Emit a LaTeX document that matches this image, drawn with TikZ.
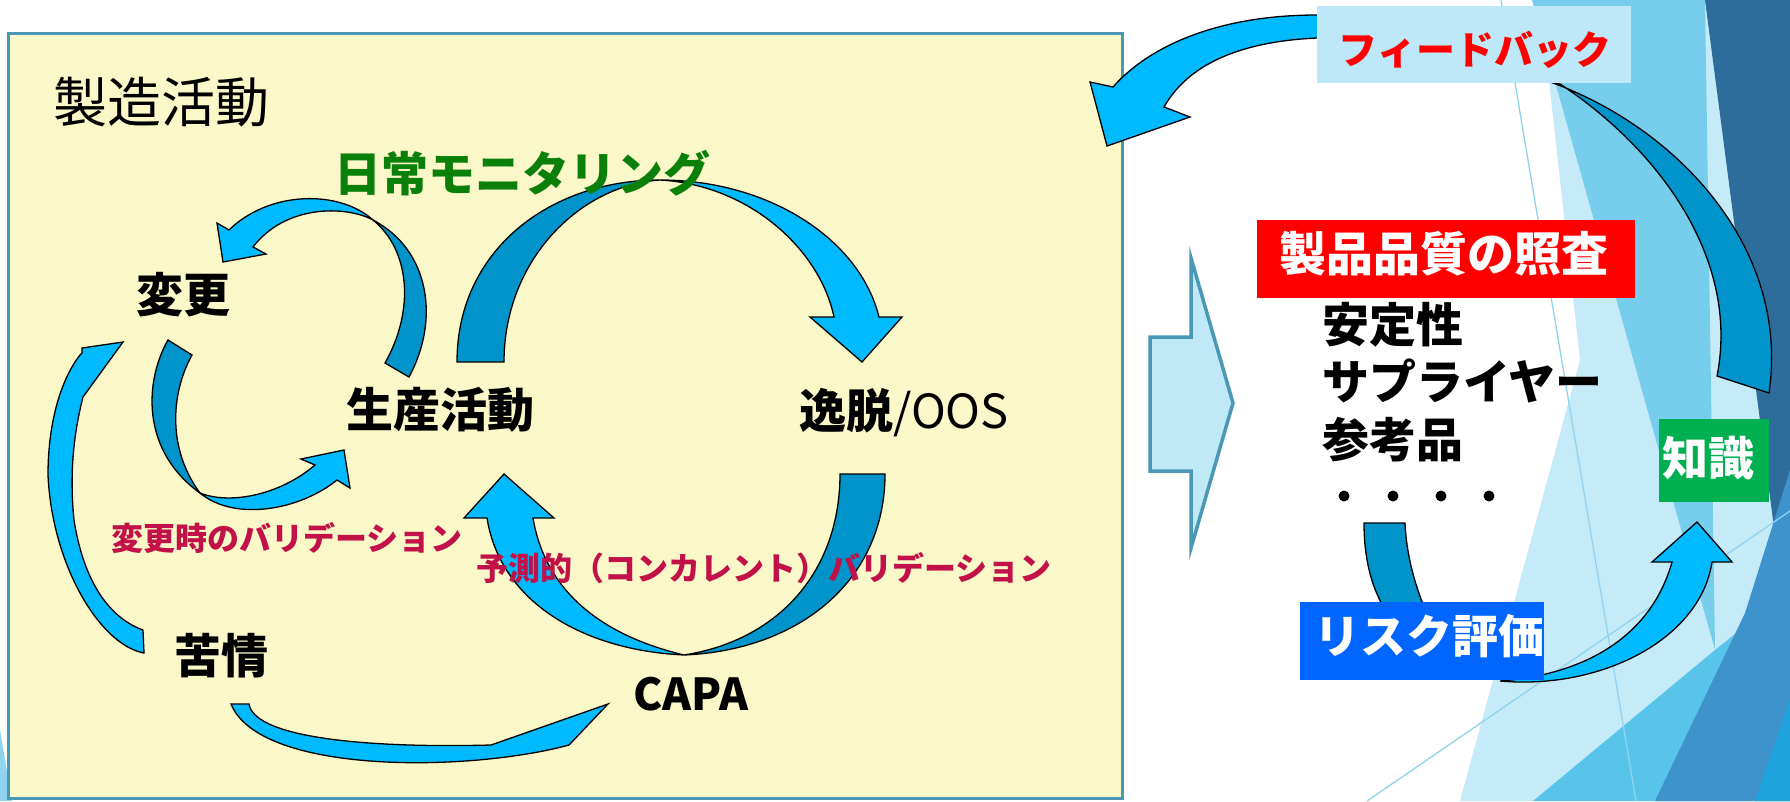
\documentclass[tikz,border=0pt]{standalone}
\usepackage{fontspec}
\setmainfont{Noto Sans CJK JP}
\definecolor{boxfill}{RGB}{250,247,200}
\definecolor{boxline}{RGB}{74,152,181}
\definecolor{arrLight}{RGB}{0,186,255}
\definecolor{arrDark}{RGB}{0,148,202}
\definecolor{crimson}{RGB}{194,16,72}
\definecolor{mgreen}{RGB}{10,128,10}
\definecolor{fbfill}{RGB}{190,232,247}
\definecolor{bigfill}{RGB}{191,233,247}
\definecolor{kgreen}{RGB}{0,176,80}
\definecolor{rblue}{RGB}{0,102,255}
\definecolor{pureRed}{RGB}{255,0,0}
\definecolor{facetPale}{RGB}{198,235,248}
\definecolor{facetMid}{RGB}{118,205,236}
\definecolor{facetMidB}{RGB}{88,196,234}
\definecolor{facetDark}{RGB}{46,108,156}
\definecolor{facetBlue}{RGB}{62,147,205}
\definecolor{facetBright}{RGB}{31,163,220}
\definecolor{facetLine}{RGB}{143,212,239}
\tikzset{
  alight/.style={fill=arrLight, draw=black, line width=1.3pt, line join=miter},
  adark/.style={fill=arrDark, draw=black, line width=1.3pt, line join=miter},
  jbold/.style={inner sep=0pt, font=\bfseries\fontsize{47}{50}\selectfont},
  jreg/.style={inner sep=0pt, font=\fontsize{47}{50}\selectfont},
  vlabel/.style={inner sep=0pt, text=crimson, font=\bfseries\fontsize{32}{34}\selectfont},
  wlabel/.style={inner sep=0pt, text=white, font=\bfseries\fontsize{47}{50}\selectfont},
  facetline/.style={draw=facetLine, line width=1.3pt},
}
\begin{document}
\begin{tikzpicture}[x=1pt,y=-1pt]
\useasboundingbox (0,0) rectangle (1790,801);
\fill[white] (0,0) rectangle (1790,801);
% background facets
\fill[facetPale] (1460,801) -- (1580,360) -- (1540,0) -- (1790,0) -- (1790,801) -- cycle;
\fill[facetMid] (1532,0) -- (1705,0) -- (1715,650) -- cycle;
\fill[facetMidB] (1533,801) -- (1715,650) -- (1790,590) -- (1790,801) -- cycle;
\fill[facetDark] (1705,0) -- (1790,0) -- (1790,650) -- cycle;
\fill[facetBlue] (1655,801) -- (1745,613) -- (1790,470) -- (1790,801) -- cycle;
\fill[facetBright] (1755,801) -- (1790,700) -- (1790,801) -- cycle;
\draw[facetline] (1501,0) -- (1636,801);
\draw[facetline] (1367,801) -- (1790,511);
\fill[facetLine] (0,730) -- (12,801) -- (0,801) -- cycle;
% yellow frame
\draw[fill=boxfill, draw=boxline, line width=3pt] (8,33) rectangle (1122,798);
% big outline arrow
\draw[fill=bigfill, draw=boxline, line width=3.5pt, line join=miter]
  (1150,337) -- (1191,337) -- (1191,258) -- (1233,403) -- (1191,548) -- (1191,471) -- (1150,471) -- cycle;
% arrow E (kujou -> henkou)
\draw[alight] (143,630) .. controls (115,620) and (85,590) .. (74,520)
  .. controls (70,480) and (72,440) .. (83,397) -- (123,342) -- (82,348) -- (82,353) -- (80,355)
  .. controls (62,378) and (48,420) .. (48,475)
  .. controls (52,565) and (100,645) .. (144,653) -- cycle;
% arrow D (henkou -> seisan)
\draw[adark] (168,340) .. controls (145,380) and (140,450) .. (200,493)
  .. controls (168,450) and (170,395) .. (192,355) -- cycle;
\draw[alight] (200,493) .. controls (230,505) and (280,495) .. (315,465) -- (301,459) -- (344,450)
  -- (350,488) -- (337,480) .. controls (300,510) and (235,522) .. (200,493) -- cycle;
% arrow A (seisan -> henkou)
\draw[adark] (409,377) .. controls (440,320) and (430,250) .. (373,220)
  .. controls (410,250) and (415,310) .. (385,363) -- cycle;
\draw[alight] (373,220) .. controls (340,190) and (270,190) .. (229,230) -- (217,223) -- (223,262)
  -- (266,254) -- (253,247) .. controls (285,205) and (345,205) .. (373,220) -- cycle;
% arrow B (seisan -> itsudatsu)
\draw[adark] (457,362) .. controls (457,250) and (550,180) .. (660,180)
  .. controls (580,185) and (504,260) .. (504,362) -- cycle;
\draw[alight] (660,180) .. controls (770,180) and (860,240) .. (879,317) -- (902,317) -- (862,362)
  -- (810,317) -- (834,317) .. controls (820,250) and (750,185) .. (660,180) -- cycle;
% arrow C (itsudatsu -> CAPA -> seisan)
\draw[adark] (885,474) .. controls (885,580) and (800,650) .. (684,655)
  .. controls (780,640) and (840,570) .. (840,474) -- cycle;
\draw[alight] (684,655) .. controls (580,650) and (500,600) .. (487,518) -- (464,518) -- (504,474)
  -- (554,518) -- (533,518) .. controls (545,590) and (600,635) .. (684,655) -- cycle;
% arrow F (kujou -> CAPA)
\draw[alight] (249,704) .. controls (255,740) and (380,748) .. (491,745) -- (608,704) -- (569,745)
  .. controls (470,772) and (260,775) .. (231,704) -- cycle;
% left texts
\node[inner sep=0pt, font=\fontsize{54}{56}\selectfont] (seizou) at (161,102) {製造活動};
\node[jbold, text=mgreen] (nichijo) at (522,173) {日常モニタリング};
\node[jbold] (henkou) at (183,295) {変更};
\node[jbold] (seisan) at (440,410) {生産活動};
\node[jreg] (itsudatsu) at (904,413) {{\bfseries 逸脱}/OOS};
\node[jbold] (kujou) at (221,656) {苦情};
\node[inner sep=0pt, font=\bfseries\fontsize{44}{48}\selectfont] (capa) at (691,694) {CAPA};
\node[vlabel] (val1) at (287,538) {変更時のバリデーション};
\node[vlabel] (val2) at (764,568) {予測的（コンカレント）バリデーション};
% arrow G (feedback, light part)
\draw[alight] (1400,14) -- (1317,15) .. controls (1220,15) and (1150,45) .. (1113,87) -- (1090,82)
  -- (1107,146) -- (1190,117) -- (1164,107) .. controls (1185,70) and (1230,42) .. (1317,38) -- (1400,30) -- cycle;
% arrow H (dark part towards knowledge)
\draw[adark] (1553,83) .. controls (1680,130) and (1790,250) .. (1769,393) -- (1717,376)
  .. controls (1740,260) and (1660,150) .. (1560,84) -- cycle;
% feedback box
\fill[fbfill] (1317,6) rectangle (1631,83);
\node[inner sep=0pt, text=pureRed, font=\bfseries\fontsize{39}{42}\selectfont] (feedback) at (1475,50) {フィードバック};
% product quality review
\fill[pureRed] (1257,220) rectangle (1635,298);
\node[wlabel] (shohin) at (1444,254) {製品品質の照査};
\node[jbold, anchor=west] (antei) at (1322,325) {安定性};
\node[jbold, anchor=west] (supplier) at (1322,381) {サプライヤー};
\node[jbold, anchor=west] (sankou) at (1322,440) {参考品};
\foreach \xx in {1344,1393,1441,1489} \fill[black] (\xx,496) circle (5.5);
% arrow I
\draw[adark] (1364,523) .. controls (1364,590) and (1390,640) .. (1455,665)
  .. controls (1425,620) and (1407,570) .. (1405,523) -- cycle;
\draw[alight] (1500,681) .. controls (1580,675) and (1650,640) .. (1672,562) -- (1652,562) -- (1697,522)
  -- (1732,562) -- (1712,562) .. controls (1700,640) and (1600,690) .. (1500,681) -- cycle;
\fill[rblue] (1300,602) rectangle (1544,680);
\node[wlabel, font=\bfseries\fontsize{46}{48}\selectfont] (risk) at (1429,636) {リスク評価};
% knowledge box
\fill[kgreen] (1659,419) rectangle (1769,502);
\node[wlabel, font=\bfseries\fontsize{46}{48}\selectfont] (chishiki) at (1708,458) {知識};
\end{tikzpicture}
\end{document}
